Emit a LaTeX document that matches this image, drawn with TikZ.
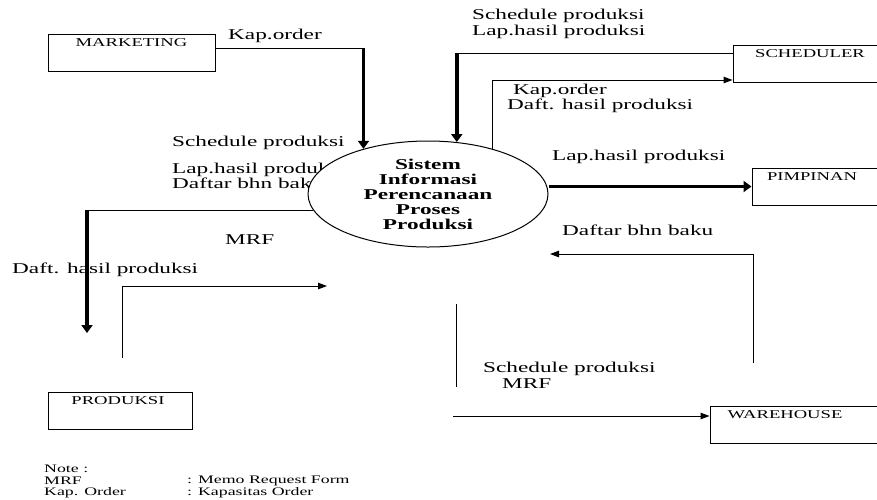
\documentclass[tikz,border=0pt]{standalone}
\usepackage{fontspec}
\setmainfont{Liberation Serif}[FakeStretch=1.55]
\usetikzlibrary{arrows.meta,shapes.geometric}
\tikzset{
  entity/.style={draw, line width=1pt, inner sep=0pt, minimum height=37pt},
  entname/.style={anchor=north, inner sep=0pt, yshift=-5pt, font=\fontsize{12}{12}\selectfont},
  flowtext/.style={anchor=west, inner sep=0pt, font=\fontsize{15}{15}\selectfont},
  notetext/.style={anchor=west, inner sep=0pt, font=\fontsize{11.5}{11.5}\selectfont},
  thinline/.style={line width=1pt},
  thinflow/.style={line width=1pt, -{Triangle[length=9pt,width=6.5pt]}},
  thickflow/.style={line width=3.5pt, -{Triangle[length=8pt,width=11pt]}}
}
\begin{document}
\begin{tikzpicture}[x=1pt,y=-1pt]
\useasboundingbox (0,0) rectangle (877,499);
\clip (0,0) rectangle (877,499);
\node[entity, minimum width=167pt] (mkt) at (131.5,52.5) {};
\node[entname] (mkttxt) at (mkt.north) {MARKETING};
\node[entity, minimum width=154pt] (sch) at (810,63.5) {};
\node[entname] (schtxt) at (sch.north) {SCHEDULER};
\node[entity, minimum width=128pt] (pim) at (816,186.5) {};
\node[entname, xshift=-4pt] (pimtxt) at (pim.north) {PIMPINAN};
\node[entity, minimum width=144pt] (prd) at (120,410.5) {};
\node[entname, xshift=-2pt] (prdtxt) at (prd.north) {PRODUKSI};
\node[entity, minimum width=170pt] (wh) at (795,424.5) {};
\node[entname, xshift=-10pt] (whtxt) at (wh.north) {WAREHOUSE};
\node[flowtext] (t1) at (228,36) {Kap.order};
\node[flowtext] (t2) at (172,143) {Schedule produksi};
\node[flowtext] (t3) at (172,170) {Lap.hasil produksi};
\node[flowtext] (t4) at (172,183) {Daftar bhn baku};
\node[flowtext] (t5) at (225,240) {MRF};
\node[flowtext] (t6) at (12,270) {Daft. hasil produksi};
\node[flowtext] (t7) at (472,16) {Schedule produksi};
\node[flowtext] (t8) at (472,32) {Lap.hasil produksi};
\node[flowtext] (t9) at (513,91) {Kap.order};
\node[flowtext] (t10) at (507,106) {Daft. hasil produksi};
\node[flowtext] (t11) at (552,157) {Lap.hasil produksi};
\node[flowtext] (t12) at (562,230) {Daftar bhn baku};
\node[flowtext] (t13) at (483,369) {Schedule produksi};
\node[flowtext] (t14) at (502,384) {MRF};
\node[draw, ellipse, line width=1pt, fill=white, minimum width=240pt, minimum height=106pt, inner sep=0pt, align=center, font=\bfseries\fontsize{15}{15}\selectfont] (sip) at (428,194) {Sistem\\Informasi\\Perencanaan\\Proses\\Produksi};
\coordinate (mk) at ([yshift=4.5pt]mkt.east);
\draw[thinline] (mk) -- (mk -| sip.145);
\draw[thickflow] (mk -| sip.145) -- (sip.145);
\coordinate (sk) at ([yshift=10.5pt]sch.west);
\draw[thinline] (sk) -- (sk -| sip.61);
\draw[thickflow] (sk -| sip.61) -- (sip.61);
\draw[thinflow] (sip.35) |- ([yshift=-16.5pt]sch.west);
\draw[thickflow] (sip.east |- pim.west) -- (pim.west);
\coordinate (d1) at (87,333);
\draw[thinline] (sip.188) -- (sip.188 -| d1);
\draw[thickflow] (sip.188 -| d1) -- (d1);
\coordinate (p1) at (122,358);
\coordinate (p2) at (327,286);
\draw[thinflow] (p1) |- (p2);
\coordinate (w1) at (753,363);
\coordinate (w2) at (550,254);
\draw[thinflow] (w1) |- (w2);
\coordinate (v1) at (456,304);
\coordinate (v2) at (456,387);
\draw[thinline] (v1) -- (v2);
\coordinate (w3) at (453,416);
\draw[thinflow] (w3) -- (w3 -| wh.west);
\node[notetext] (n1) at (44,469) {Note :};
\node[notetext] (n2) at (44,481) {MRF};
\node[notetext] (n3) at (187,481) {: Memo Request Form};
\node[notetext] (n4) at (44,493) {Kap. Order};
\node[notetext] (n5) at (187,493) {: Kapasitas Order};
\end{tikzpicture}
\end{document}
